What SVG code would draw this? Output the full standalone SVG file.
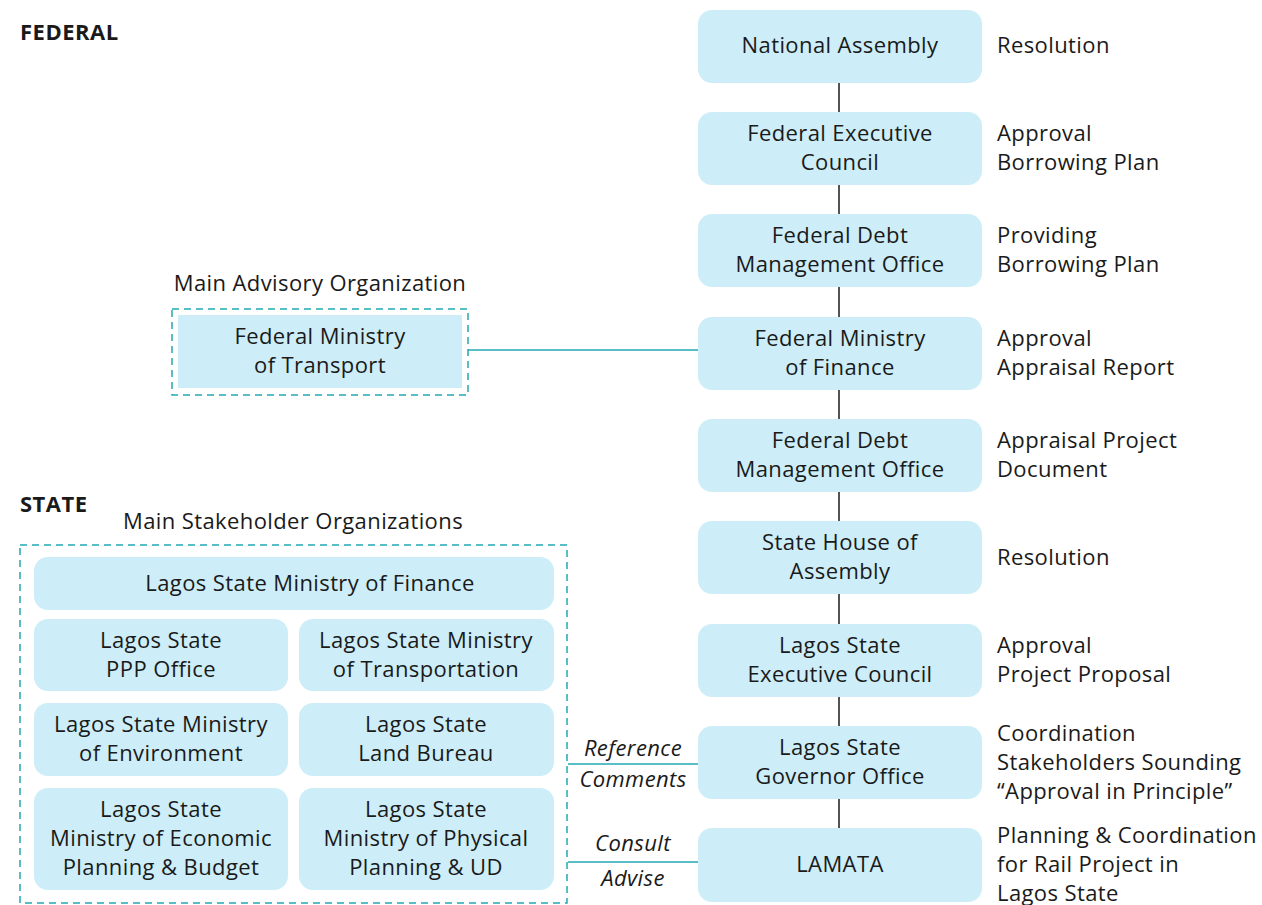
<svg xmlns="http://www.w3.org/2000/svg" width="1262" height="905" viewBox="0 0 1262 905">
<style>
text{font-family:"Open Sans","Noto Sans","Liberation Sans",sans-serif;font-size:22px;letter-spacing:0.4px;fill:#1a1a1a}
.c{text-anchor:middle}
.h{font-weight:bold;font-size:22px;letter-spacing:0.5px}
.i{font-style:italic}
.box{fill:#cdeef8}
.dash{fill:none;stroke:#22a8b2;stroke-width:1.5;stroke-dasharray:7 5}
.vl{stroke:#1a1a1a;stroke-width:1.5}
.tl{stroke:#22a8b2;stroke-width:1.5}
</style>
<rect width="1262" height="905" fill="#fff"/>
<text class="h" x="20" y="40">FEDERAL</text>
<text class="h" x="20" y="512">STATE</text>

<g id="connectors">
<line class="vl" x1="839" y1="83" x2="839" y2="112"/>
<line class="vl" x1="839" y1="185" x2="839" y2="214"/>
<line class="vl" x1="839" y1="287" x2="839" y2="317"/>
<line class="vl" x1="839" y1="390" x2="839" y2="419"/>
<line class="vl" x1="839" y1="492" x2="839" y2="521"/>
<line class="vl" x1="839" y1="594" x2="839" y2="624"/>
<line class="vl" x1="839" y1="697" x2="839" y2="726"/>
<line class="vl" x1="839" y1="799" x2="839" y2="828"/>
<line class="tl" x1="468" y1="350" x2="698" y2="350"/>
<line class="tl" x1="568" y1="764" x2="698" y2="764"/>
<line class="tl" x1="568" y1="862" x2="698" y2="862"/>
<text class="c i" x="633" y="756">Reference</text>
<text class="c i" x="633" y="787">Comments</text>
<text class="c i" x="633" y="851">Consult</text>
<text class="c i" x="633" y="886">Advise</text>
</g>

<g id="national-assembly">
<rect class="box" x="698" y="10" width="284" height="73" rx="14"/>
<text class="c" x="840" y="53">National Assembly</text>
<text x="997" y="53">Resolution</text>
</g>
<g id="federal-executive-council">
<rect class="box" x="698" y="112" width="284" height="73" rx="14"/>
<text class="c" x="840" y="141">Federal Executive</text>
<text class="c" x="840" y="170">Council</text>
<text x="997" y="141">Approval</text>
<text x="997" y="170">Borrowing Plan</text>
</g>
<g id="fdmo-1">
<rect class="box" x="698" y="214" width="284" height="73" rx="14"/>
<text class="c" x="840" y="243">Federal Debt</text>
<text class="c" x="840" y="272">Management Office</text>
<text x="997" y="243">Providing</text>
<text x="997" y="272">Borrowing Plan</text>
</g>
<g id="federal-ministry-finance">
<rect class="box" x="698" y="317" width="284" height="73" rx="14"/>
<text class="c" x="840" y="346">Federal Ministry</text>
<text class="c" x="840" y="375">of Finance</text>
<text x="997" y="346">Approval</text>
<text x="997" y="375">Appraisal Report</text>
</g>
<g id="fdmo-2">
<rect class="box" x="698" y="419" width="284" height="73" rx="14"/>
<text class="c" x="840" y="448">Federal Debt</text>
<text class="c" x="840" y="477">Management Office</text>
<text x="997" y="448">Appraisal Project</text>
<text x="997" y="477">Document</text>
</g>
<g id="state-house-assembly">
<rect class="box" x="698" y="521" width="284" height="73" rx="14"/>
<text class="c" x="840" y="550">State House of</text>
<text class="c" x="840" y="579">Assembly</text>
<text x="997" y="565">Resolution</text>
</g>
<g id="lagos-exec-council">
<rect class="box" x="698" y="624" width="284" height="73" rx="14"/>
<text class="c" x="840" y="653">Lagos State</text>
<text class="c" x="840" y="682">Executive Council</text>
<text x="997" y="653">Approval</text>
<text x="997" y="682">Project Proposal</text>
</g>
<g id="governor-office">
<rect class="box" x="698" y="726" width="284" height="73" rx="14"/>
<text class="c" x="840" y="755">Lagos State</text>
<text class="c" x="840" y="784">Governor Office</text>
<text x="997" y="741">Coordination</text>
<text x="997" y="770">Stakeholders Sounding</text>
<text x="997" y="799">“Approval in Principle”</text>
</g>
<g id="lamata">
<rect class="box" x="698" y="828" width="284" height="74" rx="14"/>
<text class="c" x="840" y="872">LAMATA</text>
<text x="997" y="843">Planning &amp; Coordination</text>
<text x="997" y="872">for Rail Project in</text>
<text x="997" y="901">Lagos State</text>
</g>

<g id="advisory">
<text class="c" x="320" y="291">Main Advisory Organization</text>
<rect class="dash" x="172" y="309" width="296" height="86"/>
<rect class="box" x="178" y="315" width="284" height="73"/>
<text class="c" x="320" y="344">Federal Ministry</text>
<text class="c" x="320" y="373">of Transport</text>
</g>

<g id="stakeholders">
<text class="c" x="293" y="529">Main Stakeholder Organizations</text>
<rect class="dash" x="20" y="545" width="547" height="358"/>
</g>
<g id="ls-finance">
<rect class="box" x="34" y="557" width="520" height="53" rx="14"/>
<text class="c" x="310" y="591">Lagos State Ministry of Finance</text>
</g>
<g id="ls-ppp">
<rect class="box" x="34" y="619" width="254" height="72" rx="14"/>
<text class="c" x="161" y="648">Lagos State</text>
<text class="c" x="161" y="677">PPP Office</text>
</g>
<g id="ls-transport">
<rect class="box" x="299" y="619" width="255" height="72" rx="14"/>
<text class="c" x="426" y="648">Lagos State Ministry</text>
<text class="c" x="426" y="677">of Transportation</text>
</g>
<g id="ls-environment">
<rect class="box" x="34" y="703" width="254" height="73" rx="14"/>
<text class="c" x="161" y="732">Lagos State Ministry</text>
<text class="c" x="161" y="761">of Environment</text>
</g>
<g id="ls-land">
<rect class="box" x="299" y="703" width="255" height="73" rx="14"/>
<text class="c" x="426" y="732">Lagos State</text>
<text class="c" x="426" y="761">Land Bureau</text>
</g>
<g id="ls-economic">
<rect class="box" x="34" y="788" width="254" height="102" rx="14"/>
<text class="c" x="161" y="817">Lagos State</text>
<text class="c" x="161" y="846">Ministry of Economic</text>
<text class="c" x="161" y="875">Planning &amp; Budget</text>
</g>
<g id="ls-physical">
<rect class="box" x="299" y="788" width="255" height="102" rx="14"/>
<text class="c" x="426" y="817">Lagos State</text>
<text class="c" x="426" y="846">Ministry of Physical</text>
<text class="c" x="426" y="875">Planning &amp; UD</text>
</g>
</svg>
